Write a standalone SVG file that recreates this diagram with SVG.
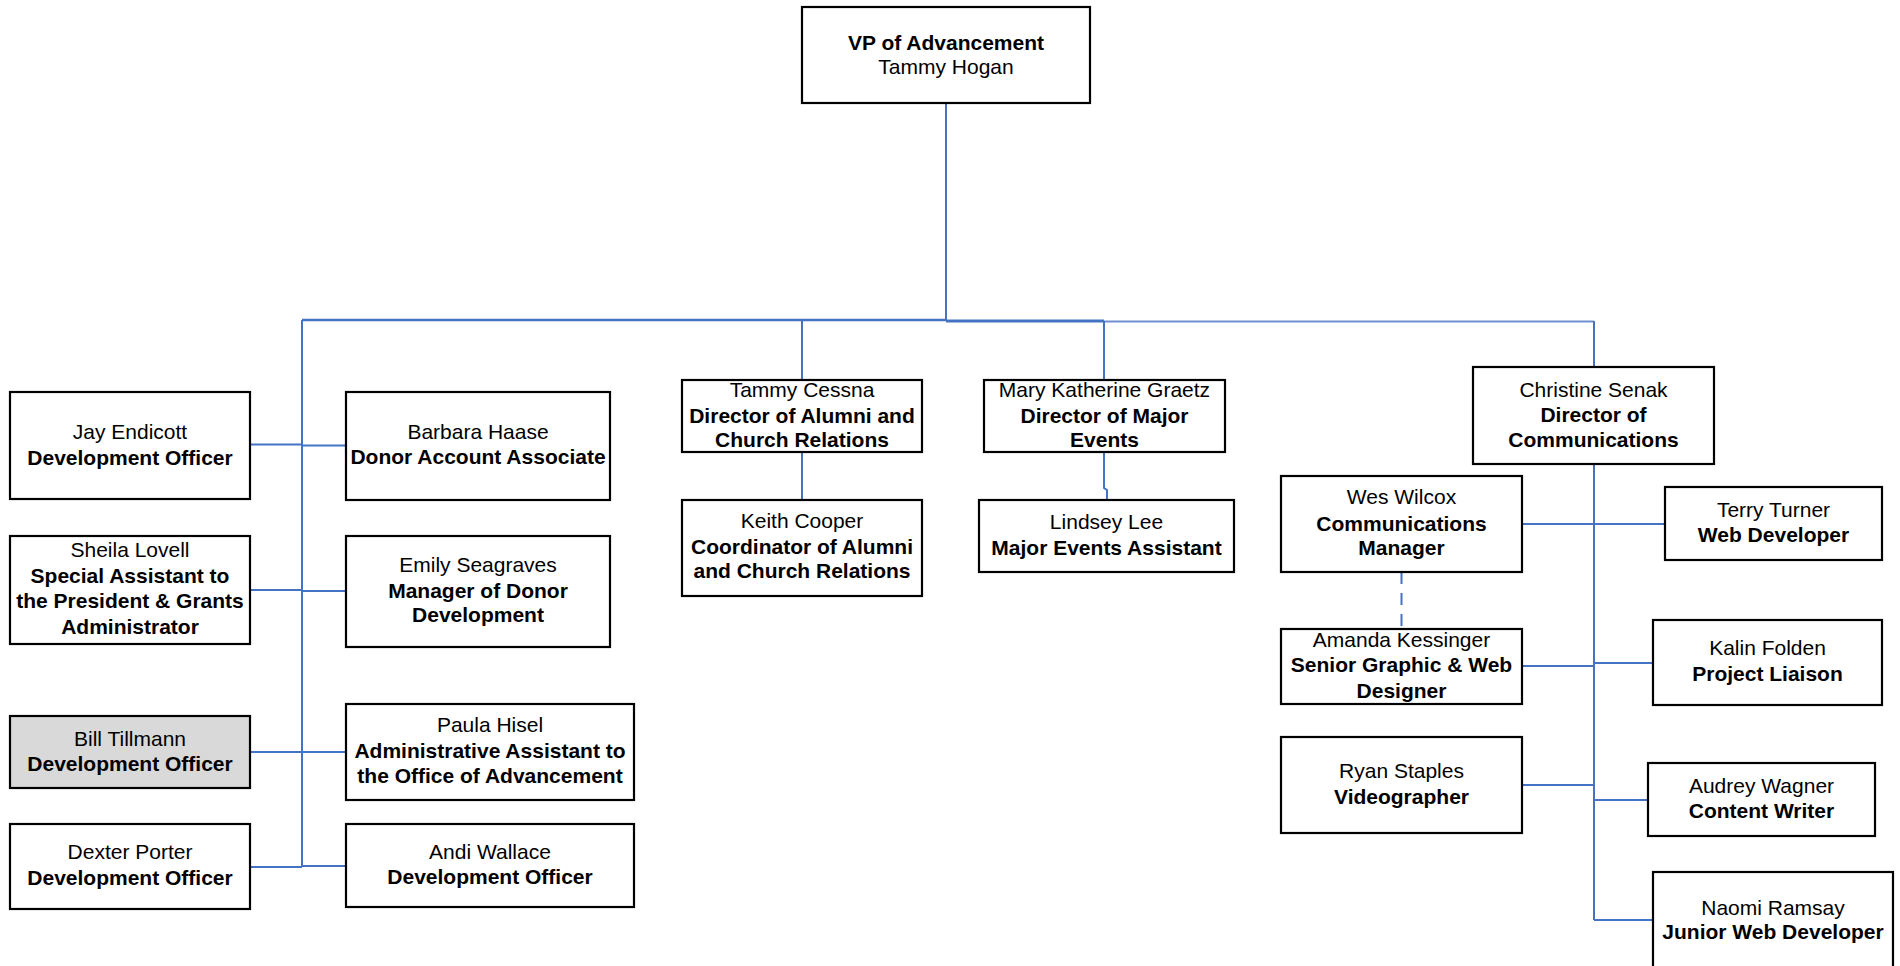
<svg xmlns="http://www.w3.org/2000/svg" width="1900" height="966" viewBox="0 0 1900 966">
<style>
.box{fill:#fff;stroke:#000;stroke-width:2.2}
.gray{fill:#d9d9d9}
text{font-family:"Liberation Sans",Arial,sans-serif;font-size:21px;fill:#000;text-anchor:middle}
.b{font-weight:bold}
.ln{fill:none;stroke:#4472c4;stroke-width:2}
.dash{stroke-dasharray:12 9}
</style>
<rect width="1900" height="966" fill="#fff"/>
<g id="connectors">
<path class="ln" d="M946,103 V320"/>
<path class="ln" style="stroke-width:2.5" d="M302,320 H946"/>
<path class="ln" style="stroke-width:3" d="M946,321 H1104"/>
<path class="ln" style="stroke:#6f90d0" d="M1104,321.5 H1594"/>
<path class="ln" d="M802,320 V380 M802,452 V500"/>
<path class="ln" d="M1104,321 V380 M1104,452 V488 L1107,490 V500"/>
<path class="ln" d="M1594,321 V367 M1594,464 V920"/>
<path class="ln" d="M302,320 V867"/>
<path class="ln" d="M250,444.5 H302 M302,445.5 H346"/>
<path class="ln" d="M250,590 H302 M302,591 H346"/>
<path class="ln" d="M250,752 H346"/>
<path class="ln" d="M250,867 H302 M302,866 H346"/>
<path class="ln" d="M1522,524 H1665"/>
<path class="ln dash" d="M1401.5,572 V629"/>
<path class="ln" d="M1522,666 H1594"/>
<path class="ln" d="M1594,663 H1653"/>
<path class="ln" d="M1522,785 H1594"/>
<path class="ln" d="M1594,800 H1648"/>
<path class="ln" d="M1594,920 H1653"/>
</g>
<g id="vp"><rect class="box" x="802" y="7" width="288" height="96"/><text x="946" y="50" class="b">VP of Advancement</text><text x="946" y="74">Tammy Hogan</text></g>
<g id="jay"><rect class="box" x="10" y="392" width="240" height="107"/><text x="130" y="439">Jay Endicott</text><text x="130" y="465" class="b">Development Officer</text></g>
<g id="barbara"><rect class="box" x="346" y="392" width="264" height="108"/><text x="478" y="439">Barbara Haase</text><text x="478" y="464" class="b">Donor Account Associate</text></g>
<g id="sheila"><rect class="box" x="10" y="536" width="240" height="108"/><text x="130" y="557">Sheila Lovell</text><text x="130" y="583" class="b">Special Assistant to</text><text x="130" y="608" class="b">the President &amp; Grants</text><text x="130" y="634" class="b">Administrator</text></g>
<g id="emily"><rect class="box" x="346" y="536" width="264" height="111"/><text x="478" y="572">Emily Seagraves</text><text x="478" y="598" class="b">Manager of Donor</text><text x="478" y="622" class="b">Development</text></g>
<g id="bill"><rect class="box gray" x="10" y="716" width="240" height="72"/><text x="130" y="746">Bill Tillmann</text><text x="130" y="771" class="b">Development Officer</text></g>
<g id="paula"><rect class="box" x="346" y="704" width="288" height="96"/><text x="490" y="732">Paula Hisel</text><text x="490" y="758" class="b">Administrative Assistant to</text><text x="490" y="783" class="b">the Office of Advancement</text></g>
<g id="dexter"><rect class="box" x="10" y="824" width="240" height="85"/><text x="130" y="859">Dexter Porter</text><text x="130" y="885" class="b">Development Officer</text></g>
<g id="andi"><rect class="box" x="346" y="824" width="288" height="83"/><text x="490" y="859">Andi Wallace</text><text x="490" y="884" class="b">Development Officer</text></g>
<g id="cessna"><rect class="box" x="682" y="380" width="240" height="72"/><text x="802" y="397">Tammy Cessna</text><text x="802" y="423" class="b">Director of Alumni and</text><text x="802" y="447" class="b">Church Relations</text></g>
<g id="keith"><rect class="box" x="682" y="500" width="240" height="96"/><text x="802" y="528">Keith Cooper</text><text x="802" y="554" class="b">Coordinator of Alumni</text><text x="802" y="578" class="b">and Church Relations</text></g>
<g id="mary"><rect class="box" x="984" y="380" width="241" height="72"/><text x="1104.5" y="397">Mary Katherine Graetz</text><text x="1104.5" y="423" class="b">Director of Major</text><text x="1104.5" y="447" class="b">Events</text></g>
<g id="lindsey"><rect class="box" x="979" y="500" width="255" height="72"/><text x="1106.5" y="529">Lindsey Lee</text><text x="1106.5" y="555" class="b">Major Events Assistant</text></g>
<g id="christine"><rect class="box" x="1473" y="367" width="241" height="97"/><text x="1593.5" y="397">Christine Senak</text><text x="1593.5" y="422" class="b">Director of</text><text x="1593.5" y="447" class="b">Communications</text></g>
<g id="wes"><rect class="box" x="1281" y="476" width="241" height="96"/><text x="1401.5" y="504">Wes Wilcox</text><text x="1401.5" y="531" class="b">Communications</text><text x="1401.5" y="555" class="b">Manager</text></g>
<g id="terry"><rect class="box" x="1665" y="487" width="217" height="73"/><text x="1773.5" y="517">Terry Turner</text><text x="1773.5" y="542" class="b">Web Developer</text></g>
<g id="amanda"><rect class="box" x="1281" y="629" width="241" height="75"/><text x="1401.5" y="647">Amanda Kessinger</text><text x="1401.5" y="672" class="b">Senior Graphic &amp; Web</text><text x="1401.5" y="698" class="b">Designer</text></g>
<g id="kalin"><rect class="box" x="1653" y="620" width="229" height="85"/><text x="1767.5" y="655">Kalin Folden</text><text x="1767.5" y="681" class="b">Project Liaison</text></g>
<g id="ryan"><rect class="box" x="1281" y="737" width="241" height="96"/><text x="1401.5" y="778">Ryan Staples</text><text x="1401.5" y="804" class="b">Videographer</text></g>
<g id="audrey"><rect class="box" x="1648" y="763" width="227" height="73"/><text x="1761.5" y="793">Audrey Wagner</text><text x="1761.5" y="818" class="b">Content Writer</text></g>
<g id="naomi"><rect class="box" x="1653" y="872" width="240" height="110"/><text x="1773" y="915">Naomi Ramsay</text><text x="1773" y="939" class="b">Junior Web Developer</text></g>
</svg>
